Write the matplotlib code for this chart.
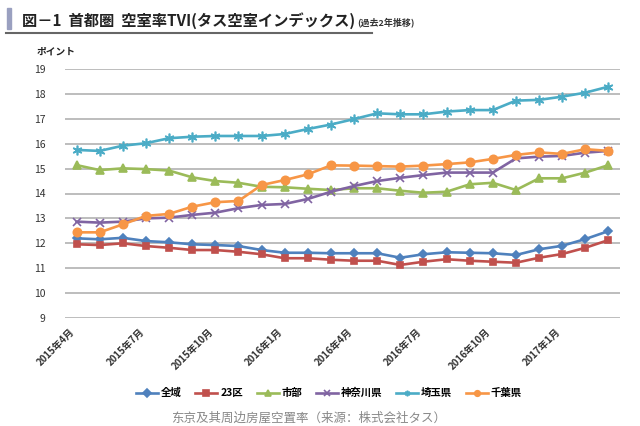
import matplotlib
matplotlib.use("Agg")
import matplotlib.pyplot as plt
from matplotlib.lines import Line2D

plt.rcParams['font.family'] = ['Noto Sans CJK JP', 'DejaVu Sans']

# months Apr 2015 .. Mar 2017
months = ['2015年4月', '2015年5月', '2015年6月', '2015年7月', '2015年8月', '2015年9月',
          '2015年10月', '2015年11月', '2015年12月', '2016年1月', '2016年2月', '2016年3月',
          '2016年4月', '2016年5月', '2016年6月', '2016年7月', '2016年8月', '2016年9月',
          '2016年10月', '2016年11月', '2016年12月', '2017年1月', '2017年2月', '2017年3月']

zeniki = [12.20, 12.16, 12.22, 12.09, 12.04, 11.96, 11.93, 11.89, 11.73, 11.62, 11.62, 11.60,
          11.60, 11.60, 11.42, 11.56, 11.64, 11.62, 11.60, 11.53, 11.76, 11.90, 12.17, 12.49]
ku23 = [11.96, 11.93, 12.00, 11.89, 11.82, 11.73, 11.73, 11.66, 11.56, 11.40, 11.40, 11.34,
        11.30, 11.30, 11.13, 11.26, 11.36, 11.30, 11.26, 11.22, 11.42, 11.57, 11.82, 12.13]
shibu = [15.14, 14.94, 15.01, 14.98, 14.92, 14.65, 14.50, 14.43, 14.27, 14.25, 14.19, 14.14,
         14.21, 14.21, 14.11, 14.03, 14.07, 14.37, 14.43, 14.14, 14.61, 14.61, 14.84, 15.14]
kanagawa = [12.87, 12.83, 12.87, 13.00, 13.03, 13.14, 13.23, 13.41, 13.54, 13.58, 13.78, 14.07,
            14.30, 14.50, 14.63, 14.74, 14.84, 14.84, 14.84, 15.41, 15.48, 15.51, 15.64, 15.71]
saitama = [15.75, 15.71, 15.92, 16.02, 16.22, 16.28, 16.31, 16.31, 16.31, 16.39, 16.59, 16.77,
           16.99, 17.22, 17.18, 17.18, 17.29, 17.35, 17.35, 17.73, 17.76, 17.89, 18.05, 18.29]
chiba = [12.44, 12.44, 12.76, 13.10, 13.18, 13.47, 13.65, 13.70, 14.34, 14.54, 14.77, 15.13,
         15.12, 15.10, 15.08, 15.12, 15.18, 15.25, 15.39, 15.55, 15.65, 15.59, 15.78, 15.71]

names = ['全域', '23区', '市部', '神奈川県', '埼玉県', '千葉県']

fig = plt.figure(figsize=(6.4, 4.26), dpi=100)
ax = fig.add_axes([65 / 640, 1 - 318 / 426, 555 / 640, 249 / 426])

x = list(range(len(months)))
series = [
    (zeniki, '#4F81BD', 'D', 4.5),
    (ku23, '#C0504D', 's', 5),
    (shibu, '#9BBB59', '^', 6),
    (kanagawa, '#8064A2', 'x', 6),
    (saitama, '#4BACC6', (6, 2, 0), 7),
    (chiba, '#F79646', 'o', 6),
]
for (vals, col, mk, ms), name in zip(series, names):
    ax.plot(x, vals, color=col, lw=1.9, marker=mk, markersize=ms,
            markeredgecolor=col, markeredgewidth=1.2, label=name)

ax.set_xlim(-0.5, 23.5)
ax.set_ylim(9, 19)
ax.set_yticks(range(9, 20))
ax.yaxis.grid(True, color='#bdbdbd', lw=1.4)
ax.set_axisbelow(True)
for s in ax.spines.values():
    s.set_visible(False)
ax.tick_params(axis='both', length=0, labelsize=7.5, colors='#333333')
ax.tick_params(axis='y', pad=14)

tick_idx = list(range(0, 24, 3))
ax.set_xticks(tick_idx)
ax.set_xticklabels([months[i] for i in tick_idx], rotation=45, ha='right',
                   fontsize=7, fontweight='bold', color='#333333')
ax.tick_params(axis='x', pad=6)

# title block
fig.patches.append(plt.Rectangle((7 / 640, 1 - 29 / 426), 4 / 640, 21 / 426,
                                 transform=fig.transFigure, color='#9aa0c0'))
fig.text(22 / 640, 1 - 21 / 426, '図－1  首都圏  空室率TVI(タス空室インデックス)',
         fontsize=11, fontweight='bold', color='#222222', va='center')
fig.text(357 / 640, 1 - 22 / 426, '(過去2年推移)', fontsize=6.5, fontweight='bold',
         color='#333333', va='center')
fig.lines.append(Line2D([6 / 640, 372 / 640], [1 - 33 / 426, 1 - 33 / 426],
                        transform=fig.transFigure, color='#666666', lw=1.5))
fig.text(37 / 640, 1 - 52 / 426, 'ポイント', fontsize=7, fontweight='bold',
         color='#222222', va='center')

leg = fig.legend(loc='center', bbox_to_anchor=(329 / 640, 1 - 393 / 426), ncol=6,
                 frameon=False, handlelength=2.1, handletextpad=0.3,
                 columnspacing=1.3, prop={'weight': 'bold', 'size': 7.5})
for h in leg.legend_handles:
    h.set_markersize(4)

fig.text(309 / 640, 1 - 418 / 426, '东京及其周边房屋空置率（来源：株式会社タス）',
         fontsize=9, color='#888888', ha='center', va='center',
         family=['Noto Sans CJK SC', 'DejaVu Sans'])

fig.savefig('out.png', dpi=100)
